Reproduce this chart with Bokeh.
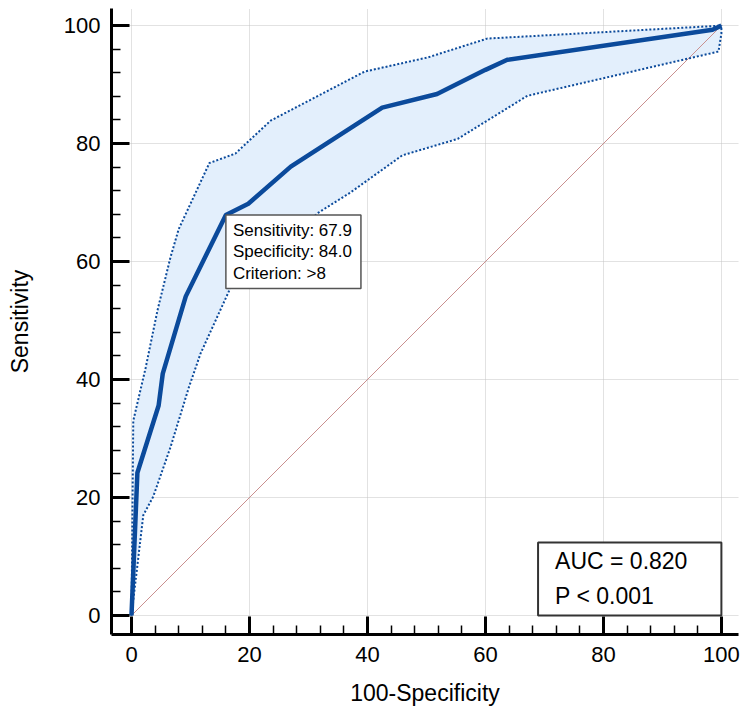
from bokeh.plotting import figure
from bokeh.models import Label, SingleIntervalTicker
from bokeh.embed import file_html
from bokeh.resources import INLINE

# ROC curve (x = 100-Specificity, y = Sensitivity)
roc_x = [0, 1.0, 4.6, 5.3, 9.2, 16.0, 19.8, 27.0, 42.5, 51.8, 60.0, 63.7, 98.5, 100]
roc_y = [0, 24.2, 35.6, 41.0, 54.1, 67.9, 69.8, 76.1, 86.1, 88.4, 92.5, 94.2, 99.3, 100]

# 95% confidence bounds
upper_x = [0, 0.3, 2.4, 4.4, 6.6, 8.0, 13.2, 17.6, 23.6, 39.5, 50.2, 60.3, 100]
upper_y = [0, 33.0, 42.0, 51.7, 60.7, 65.5, 76.7, 78.3, 83.9, 92.2, 94.6, 97.8, 100]
lower_x = [0, 2.0, 3.7, 6.6, 9.7, 11.7, 16.8, 31.7, 37.1, 45.9, 55.3, 67.1, 99.5, 100, 100]
lower_y = [0, 17.0, 20.2, 28.5, 38.6, 44.4, 55.6, 68.3, 71.7, 78.0, 80.8, 88.1, 95.6, 98.6, 100]

# reference diagonal
diag_x = [0, 100]
diag_y = [0, 100]

# optimal cut-off
cut_sens = 67.9
cut_spec = 84.0
cut_crit = ">8"

auc_text = "AUC = 0.820"
p_text = "P < 0.001"

FONT = "Liberation Sans"
BLUE = "#0b4a9b"

p = figure(width=750, height=714, x_range=(-3.39, 102.9), y_range=(-3.22, 102.9),
           output_backend="svg", toolbar_location=None,
           min_border_left=111, min_border_right=12, min_border_top=8, min_border_bottom=80)
p.outline_line_color = None
p.background_fill_color = "white"

# band
p.patch(upper_x + lower_x[::-1], upper_y + lower_y[::-1],
        fill_color="#e3effc", line_color=None)
# diagonal
p.line(diag_x, diag_y, line_color="#c98f8f", line_width=1)
# bounds
p.line(upper_x, upper_y, line_color=BLUE, line_width=2, line_dash="2 2")
p.line(lower_x, lower_y, line_color=BLUE, line_width=2, line_dash="2 2")
# ROC
p.line(roc_x, roc_y, line_color=BLUE, line_width=4.5, line_join="round")

for ax in (p.xaxis[0], p.yaxis[0]):
    ax.ticker = SingleIntervalTicker(interval=20, num_minor_ticks=5)
    ax.axis_line_width = 3
    ax.axis_line_color = "black"
    ax.major_tick_in = 18
    ax.major_tick_out = 0
    ax.major_tick_line_width = 3
    ax.minor_tick_in = 9
    ax.minor_tick_out = 0
    ax.minor_tick_line_width = 1.5
    ax.major_label_text_font = FONT
    ax.major_label_text_font_size = "22px"
    ax.major_label_text_color = "black"
    ax.axis_label_text_font = FONT
    ax.axis_label_text_font_size = "23px"
    ax.axis_label_text_font_style = "normal"
    ax.axis_label_text_color = "black"

p.xaxis.axis_label = "100-Specificity"
p.yaxis.axis_label = "Sensitivity"
p.xaxis.major_label_standoff = 12
p.yaxis.major_label_standoff = 11
p.xaxis.axis_label_standoff = 15
p.yaxis.axis_label_standoff = 28

for g in (p.xgrid[0], p.ygrid[0]):
    g.ticker = SingleIntervalTicker(interval=20)
    g.grid_line_color = "#c4c4c4"
    g.grid_line_dash = "1 1"
    g.grid_line_width = 1

cut_label = Label(x=100 - cut_spec, y=cut_sens, anchor="top_left",
                  text=f"Sensitivity: {cut_sens:.1f}\nSpecificity: {cut_spec:.1f}\nCriterion: {cut_crit}",
                  text_font=FONT, text_font_size="17px", text_color="black",
                  text_align="left", text_baseline="top", text_line_height=1.12,
                  background_fill_color="white", border_line_color="#555555",
                  border_line_width=1.5,
                  padding=dict(left=7, right=9, top=6, bottom=6))
p.add_layout(cut_label)

auc_label = Label(x=100, y=0, anchor="bottom_right", text=f"{auc_text}\n{p_text}",
                  text_font=FONT, text_font_size="23px", text_color="black",
                  text_align="left", text_baseline="bottom", text_line_height=1.35,
                  background_fill_color="white", border_line_color="#333333",
                  border_line_width=2,
                  padding=dict(left=17, right=34, top=6, bottom=6))
p.add_layout(auc_label)

open("out.html", "w").write(file_html(p, INLINE))
